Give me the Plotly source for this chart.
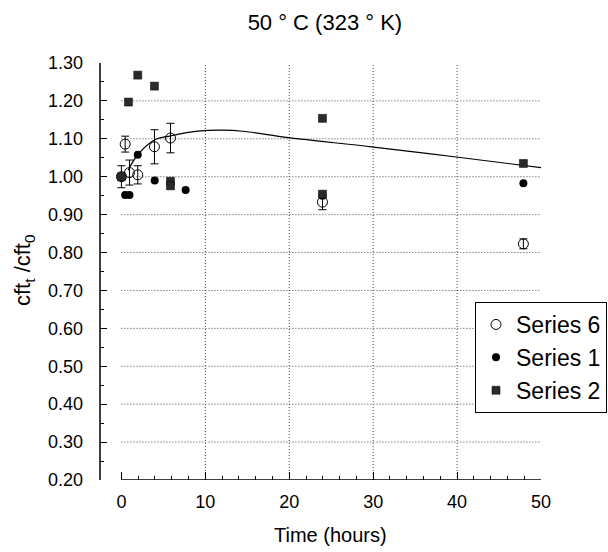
import plotly.graph_objects as go

# ---- data ----
s6_t = [0.0, 0.45, 0.96, 1.95, 3.94, 5.85, 23.96, 47.9]
s6_y = [1.00, 1.086, 1.011, 1.005, 1.079, 1.102, 0.933, 0.823]
s6_err = [0.029, 0.021, 0.033, 0.024, 0.045, 0.039, 0.020, 0.013]

s1_t = [0.0, 0.45, 0.96, 1.95, 3.97, 7.65, 23.96, 47.9]
s1_y = [1.00, 0.952, 0.952, 1.058, 0.990, 0.965, 0.950, 0.983]

s2_t = [0.0, 0.84, 1.95, 3.94, 5.85, 5.85, 23.96, 23.96, 47.9]
s2_y = [1.00, 1.197, 1.268, 1.239, 0.988, 0.976, 1.154, 0.954, 1.035]

fit_t = [0.8, 1.95, 3.94, 5.85, 9.4, 12.0, 14.5, 19.9, 29.8, 39.9, 50.0]
fit_y = [1.017, 1.058, 1.097, 1.108, 1.121, 1.123, 1.120, 1.103, 1.079, 1.052, 1.024]

x_ticks = [0, 10, 20, 30, 40, 50]
x_minor = [2, 4, 6, 8, 12, 14, 16, 18, 22, 24, 26, 28, 32, 34, 36, 38, 42, 44, 46, 48]
y_ticks = [0.2, 0.3, 0.4, 0.5, 0.6, 0.7, 0.8, 0.9, 1.0, 1.1, 1.2, 1.3]
y_minor = [0.25, 0.35, 0.45, 0.55, 0.65, 0.75, 0.85, 0.95, 1.05, 1.15, 1.25]
grid_y = [0.3, 0.4, 0.5, 0.6, 0.7, 0.8, 0.9, 1.0, 1.1, 1.2]
grid_x = [10, 20, 30, 40]

FONT = "Liberation Sans, Arial, sans-serif"
GRID = dict(color="#444", width=1, dash="1px,2px")

fig = go.Figure()

fig.add_trace(go.Scatter(
    x=fit_t, y=fit_y, mode="lines", line=dict(color="black", width=1.2, shape="spline"),
    showlegend=False, hoverinfo="skip"))

fig.add_trace(go.Scatter(
    x=s6_t, y=s6_y, mode="markers", name="Series 6",
    marker=dict(symbol="circle-open", size=10, color="black", line=dict(width=1)),
    error_y=dict(type="data", array=s6_err, color="black", thickness=1, width=4)))

fig.add_trace(go.Scatter(
    x=s1_t, y=s1_y, mode="markers", name="Series 1",
    marker=dict(symbol="circle", size=8, color="black")))

fig.add_trace(go.Scatter(
    x=s2_t, y=s2_y, mode="markers", name="Series 2",
    marker=dict(symbol="square", size=8, color="#2a2a2a", line=dict(color="black", width=0.5))))

shapes = []
for gy in grid_y:
    shapes.append(dict(type="line", xref="x", yref="y", x0=0, x1=50, y0=gy, y1=gy,
                       line=GRID, layer="below"))
for gx in grid_x:
    shapes.append(dict(type="line", xref="x", yref="y", x0=gx, x1=gx, y0=0.2, y1=1.3,
                       line=GRID, layer="below"))
# axis lines (offset style)
shapes.append(dict(type="line", xref="x", yref="y", x0=0, x1=50, y0=0.2, y1=0.2,
                   line=dict(color="black", width=1.5)))
shapes.append(dict(type="line", xref="paper", yref="y", x0=0, x1=0, y0=0.2, y1=1.3,
                   line=dict(color="black", width=1.5)))

fig.update_layout(
    width=608, height=552,
    margin=dict(l=100, r=67, t=63, b=72, autoexpand=False),
    paper_bgcolor="white", plot_bgcolor="white",
    font=dict(family=FONT, color="black"),
    title=dict(text="50 ° C (323 ° K)", x=0.51, xref="paper", y=1 - 22 / 552, yref="container",
               xanchor="center", yanchor="middle", font=dict(size=22, family=FONT)),
    shapes=shapes,
    showlegend=True,
    legend=dict(x=(475 - 100) / 441, y=(480 - 302) / 417, xanchor="left", yanchor="top",
                bgcolor="white", bordercolor="black", borderwidth=1,
                font=dict(size=23, family=FONT), tracegroupgap=0, itemwidth=30),
    annotations=[
        dict(text="cft<sub>t</sub> /cft<sub>0</sub>", xref="paper", yref="paper",
             x=(24 - 100) / 441, y=(480 - 270) / 417, xanchor="center", yanchor="middle",
             textangle=-90, showarrow=False, font=dict(size=22, family=FONT)),
        dict(text="Time (hours)", xref="paper", yref="paper",
             x=(330 - 100) / 441, y=-(535 - 480) / 417, xanchor="center", yanchor="middle",
             showarrow=False, font=dict(size=20, family=FONT)),
    ],
)

fig.update_xaxes(
    range=[-2.55, 50], showgrid=False, zeroline=False, showline=False,
    tickmode="array", tickvals=x_ticks, ticktext=[str(v) for v in x_ticks],
    ticks="inside", ticklen=8, tickwidth=1, tickcolor="black",
    tickfont=dict(size=18, family=FONT), ticklabelstandoff=9, automargin=False,
    minor=dict(tickmode="array", tickvals=x_minor, ticks="inside", ticklen=4,
               tickcolor="black", tickwidth=1, showgrid=False),
)
fig.update_yaxes(
    range=[0.2, 1.3], showgrid=False, zeroline=False, showline=False,
    tickmode="array", tickvals=y_ticks, ticktext=[f"{v:.2f}" for v in y_ticks],
    ticks="inside", ticklen=7, tickwidth=1, tickcolor="black",
    tickfont=dict(size=18, family=FONT), ticklabelstandoff=16, automargin=False,
    minor=dict(tickmode="array", tickvals=y_minor, ticks="inside", ticklen=4,
               tickcolor="black", tickwidth=1, showgrid=False),
)

fig.write_html("out.html")
